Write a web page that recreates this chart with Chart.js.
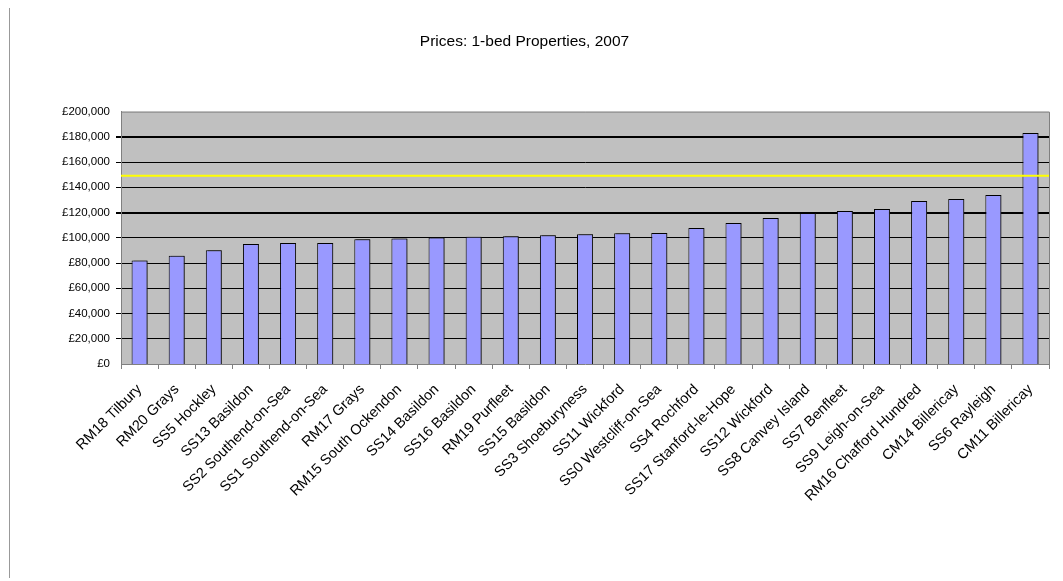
<!DOCTYPE html>
<html lang="en">
<head>
    <meta charset="UTF-8">
    <title>Prices: 1-bed Properties, 2007</title>
    <script src="https://cdn.jsdelivr.net/npm/chart.js@4.4.0/dist/chart.umd.min.js"></script>
    <style>
      body { margin: 0; background: #fff; }
      #wrap { position: relative; width: 1063px; height: 581px; }
      /* thin frame line on the left, as in the original sheet */
      #edge { position: absolute; left: 9px; top: 8px; height: 570px; border-left: 1px solid #999; }
    </style>
</head>
<body>
  <div id="wrap">
    <div id="edge"></div>
    <canvas id="chart" width="1063" height="581"></canvas>
  </div>

  <script>
    /* Postcode districts, cheapest first. */
    const districts = [
      "RM18 Tilbury", "RM20 Grays", "SS5 Hockley", "SS13 Basildon",
      "SS2 Southend-on-Sea", "SS1 Southend-on-Sea", "RM17 Grays",
      "RM15 South Ockendon", "SS14 Basildon", "SS16 Basildon", "RM19 Purfleet",
      "SS15 Basildon", "SS3 Shoeburyness", "SS11 Wickford", "SS0 Westcliff-on-Sea",
      "SS4 Rochford", "SS17 Stanford-le-Hope", "SS12 Wickford", "SS8 Canvey Island",
      "SS7 Benfleet", "SS9 Leigh-on-Sea", "RM16 Chafford Hundred", "CM14 Billericay",
      "SS6 Rayleigh", "CM11 Billericay"
    ]

    /* Average 1-bed price in each district. */
    const prices = [
      82000, 85700, 90200, 95000, 95800, 95800, 98800,
      99500, 100200, 100800, 101300, 102100, 102900, 103700, 103800,
      107700, 111700, 115600, 119600, 121200, 122800, 129100, 130700,
      133900, 183100
    ]

    /* Overall average, drawn as the yellow line. */
    const averagePrice = 149200

    /* Y axis ticks. */
    const yMin = 0
    const yMax = 200000
    const yStep = 20000

    const font = "'Liberation Sans', Arial, sans-serif"

    /* Grey plot area, border, shadow on bars and the average line. */
    const decor = {
      id: "decor",
      beforeDraw(chart) {
        const a = chart.chartArea
        const ctx = chart.ctx
        ctx.save()
        ctx.fillStyle = "#C0C0C0"
        ctx.fillRect(a.left, a.top, a.right - a.left, a.bottom - a.top)
        ctx.restore()
      },
      beforeDatasetDraw(chart) {
        const ctx = chart.ctx
        ctx.save()
        ctx.shadowColor = "rgba(40,40,40,0.75)"
        ctx.shadowOffsetX = 2
        ctx.shadowOffsetY = 0
        ctx.shadowBlur = 0
      },
      afterDatasetDraw(chart) {
        chart.ctx.restore()
      },
      afterDatasetsDraw(chart) {
        const a = chart.chartArea
        const ctx = chart.ctx
        const y = chart.scales.y.getPixelForValue(averagePrice)
        ctx.save()
        ctx.strokeStyle = "#FFFF00"
        ctx.lineWidth = 2
        ctx.beginPath()
        ctx.moveTo(a.left, y)
        ctx.lineTo(a.right, y)
        ctx.stroke()
        /* top and right edges of the plot */
        ctx.strokeStyle = "#808080"
        ctx.lineWidth = 1
        ctx.beginPath()
        ctx.moveTo(a.left, a.top + 0.5)
        ctx.lineTo(a.right + 0.5, a.top + 0.5)
        ctx.lineTo(a.right + 0.5, a.bottom)
        ctx.stroke()
        ctx.restore()
      }
    }

    const ctx = document.getElementById("chart").getContext("2d")

    const myChart = new Chart(ctx, {
      type: "bar",
      data: {
        labels: districts,
        datasets: [{
          data: prices,
          backgroundColor: "#9999FF",
          borderColor: "#000000",
          borderWidth: 1,
          barPercentage: 0.43,
          categoryPercentage: 1
        }]
      },
      plugins: [decor],
      options: {
        responsive: false,
        animation: false,
        layout: { padding: { left: 0, right: 14, top: 0, bottom: 0 } },
        plugins: {
          legend: { display: false },
          tooltip: { enabled: false },
          title: {
            display: true,
            text: "Prices: 1-bed Properties, 2007",
            color: "#000",
            font: { family: font, size: 15.5, weight: "normal" },
            padding: { top: 32, bottom: 61 }
          }
        },
        scales: {
          x: {
            grid: {
              drawOnChartArea: false,
              drawTicks: true,
              tickLength: 5,
              color: "#808080",
              offset: true
            },
            border: { color: "#808080", width: 1 },
            ticks: {
              autoSkip: false,
              maxRotation: 45,
              minRotation: 45,
              padding: 12,
              color: "#000",
              font: { family: font, size: 14.5 }
            },
            afterFit(scale) { scale.height = 217 }
          },
          y: {
            min: yMin,
            max: yMax,
            grid: {
              color: "#000",
              tickColor: "#000",
              tickLength: 5,
              lineWidth: c => {
                const v = c.tick ? c.tick.value : 0
                if (v === yMax || v === yMin) return 0
                if (v === 180000 || v === 120000) return 2
                return 1
              }
            },
            border: { color: "#808080", width: 1 },
            ticks: {
              stepSize: yStep,
              padding: 6,
              color: "#000",
              font: { family: font, size: 11.5 },
              callback: v => "£" + v.toLocaleString("en-GB")
            },
            afterFit(scale) { scale.width = 121 }
          }
        }
      }
    })
  </script>
</body>
</html>
